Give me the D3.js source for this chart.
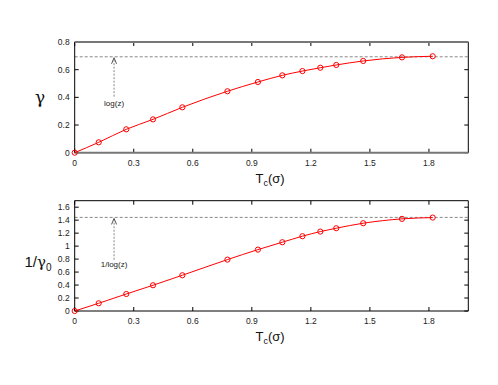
<!DOCTYPE html>
<html>
<head>
<meta charset="utf-8">
<script src="https://cdn.jsdelivr.net/npm/d3@7/dist/d3.min.js"></script>
<style>
body { margin:0; background:#fff; }
text { font-family: "Liberation Sans", Arial, sans-serif; }
</style>
</head>
<body>
<script>
const tc = [0, 0.122, 0.262, 0.398, 0.547, 0.776, 0.931, 1.055, 1.157, 1.248, 1.329, 1.466, 1.663, 1.819]
const gamma = [0, 0.075, 0.169, 0.241, 0.328, 0.444, 0.511, 0.559, 0.590, 0.614, 0.634, 0.663, 0.689, 0.697]
const invGamma0 = [0, 0.119, 0.262, 0.397, 0.551, 0.792, 0.946, 1.06, 1.153, 1.224, 1.276, 1.353, 1.42, 1.44]
const xTicks = [0, 0.3, 0.6, 0.9, 1.2, 1.5, 1.8]
const topTicks = [0, 0.2, 0.4, 0.6, 0.8]
const botTicks = [0, 0.2, 0.4, 0.6, 0.8, 1, 1.2, 1.4, 1.6]
const logZ = Math.log(2)

const width = 498, height = 385
const svg = d3.select("body").append("svg").attr("width", width).attr("height", height)

const xScale = d3.scaleLinear().domain([0, 2]).range([74.7, 468.3])

function panel(opts) {
  const y = d3.scaleLinear().domain(opts.ydom).range([opts.bottom, opts.top])
  const g = svg.append("g")
  const x0 = xScale.range()[0], x1 = xScale.range()[1]

  // dashed reference line
  g.append("line").attr("x1", x0).attr("x2", x1)
    .attr("y1", y(opts.ref)).attr("y2", y(opts.ref))
    .attr("stroke", "#888").attr("stroke-dasharray", "3,2").attr("stroke-width", 1)

  // arrow
  const ax = xScale(0.2)
  g.append("line").attr("x1", ax).attr("x2", ax)
    .attr("y1", y(opts.arrowFrom)).attr("y2", y(opts.ref) + 1)
    .attr("stroke", "#888").attr("stroke-dasharray", "2,1.5").attr("stroke-width", 1)
  g.append("path")
    .attr("d", `M${ax - 2.5},${y(opts.ref) + 7} L${ax},${y(opts.ref) + 1} L${ax + 2.5},${y(opts.ref) + 7}`)
    .attr("fill", "none").attr("stroke", "#555").attr("stroke-width", 1)
  g.append("text").attr("x", ax).attr("y", y(opts.textAt))
    .attr("text-anchor", "middle").attr("font-size", 8).attr("fill", "#222")
    .text(opts.note)

  // ticks (mirrored, inward)
  xTicks.forEach(t => {
    g.append("line").attr("x1", xScale(t)).attr("x2", xScale(t))
      .attr("y1", opts.bottom).attr("y2", opts.bottom - 4).attr("stroke", "#000")
    g.append("line").attr("x1", xScale(t)).attr("x2", xScale(t))
      .attr("y1", opts.top).attr("y2", opts.top + 4).attr("stroke", "#000")
    g.append("text").attr("x", xScale(t)).attr("y", opts.bottom + 13)
      .attr("text-anchor", "middle").attr("font-size", 8.5).attr("fill", "#222").text(t)
  })
  opts.yticks.forEach(t => {
    g.append("line").attr("x1", x0).attr("x2", x0 + 4)
      .attr("y1", y(t)).attr("y2", y(t)).attr("stroke", "#000")
    g.append("line").attr("x1", x1).attr("x2", x1 - 4)
      .attr("y1", y(t)).attr("y2", y(t)).attr("stroke", "#000")
    g.append("text").attr("x", x0 - 5).attr("y", y(t) + 3)
      .attr("text-anchor", "end").attr("font-size", 8.5).attr("fill", "#222").text(t)
  })

  // frame
  g.append("line").attr("x1", x0).attr("x2", x0).attr("y1", opts.top).attr("y2", opts.bottom).attr("stroke", "#000")
  g.append("line").attr("x1", x1).attr("x2", x1).attr("y1", opts.top).attr("y2", opts.bottom).attr("stroke", "#000")
  g.append("line").attr("x1", x0).attr("x2", x1).attr("y1", opts.top).attr("y2", opts.top)
    .attr("stroke", opts.hColor).attr("stroke-width", opts.hWidth)
  g.append("line").attr("x1", x0).attr("x2", x1).attr("y1", opts.bottom).attr("y2", opts.bottom)
    .attr("stroke", opts.hColor).attr("stroke-width", opts.hWidth)

  // data
  const pts = tc.map((d, i) => [d, opts.values[i]])
  const line = d3.line().x(d => xScale(d[0])).y(d => y(d[1])).curve(d3.curveMonotoneX)
  g.append("path").datum(pts).attr("d", line)
    .attr("fill", "none").attr("stroke", "#f00").attr("stroke-width", 1)
  g.selectAll("circle.dot").data(pts).enter().append("circle")
    .attr("class", "dot")
    .attr("cx", d => xScale(d[0])).attr("cy", d => y(d[1])).attr("r", 2.6)
    .attr("fill", "none").attr("stroke", "#f00").attr("stroke-width", 1)

  // axis labels
  g.append("text").attr("x", 270).attr("y", opts.bottom + 30)
    .attr("text-anchor", "middle").attr("font-size", 13).attr("fill", "#111")
    .html('T<tspan font-size="9" dy="3">c</tspan><tspan dy="-3">(σ)</tspan>')
  g.append("text").attr("x", opts.ylabX).attr("y", opts.ylabY)
    .attr("text-anchor", "middle").attr("font-size", opts.ylabSize).attr("fill", "#111")
    .html(opts.ylab)
}

panel({
  top: 42, bottom: 152.7, ydom: [0, 0.8], values: gamma, yticks: topTicks,
  ref: logZ, arrowFrom: 0.405, textAt: 0.34, note: "log(z)",
  hColor: "#777", hWidth: 2,
  ylab: '<tspan font-family="DejaVu Serif">γ</tspan>', ylabX: 40, ylabY: 103, ylabSize: 17
})

panel({
  top: 200.7, bottom: 311, ydom: [0, 1.7], values: invGamma0, yticks: botTicks,
  ref: 1 / logZ, arrowFrom: 0.79, textAt: 0.68, note: "1/log(z)",
  hColor: "#000", hWidth: 1,
  ylab: '1/<tspan font-family="DejaVu Serif">γ</tspan><tspan font-size="10" dy="4">0</tspan>', ylabX: 38, ylabY: 267, ylabSize: 15
})
</script>
</body>
</html>
